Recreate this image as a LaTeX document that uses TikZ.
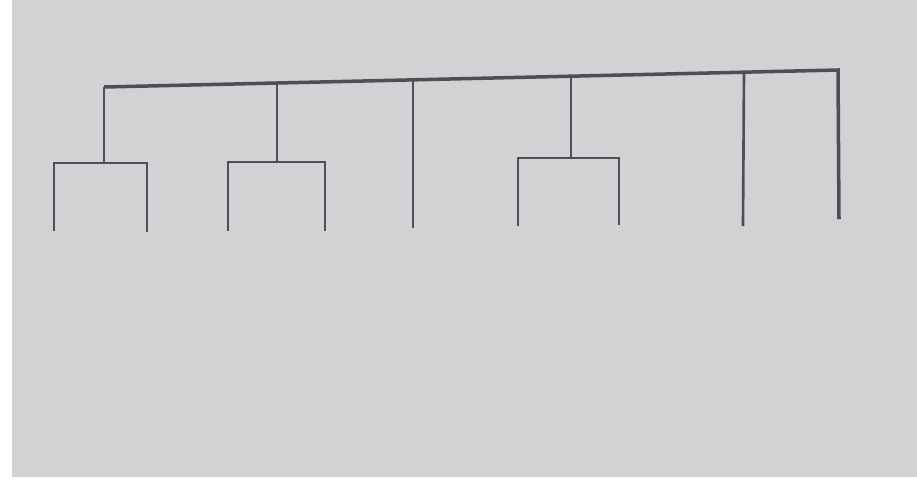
\documentclass[tikz,border=0pt]{standalone}
\usepackage{xcolor}
\definecolor{boardgray}{RGB}{211,209,211}
\definecolor{inkgray}{RGB}{78,78,84}
\usepackage{tikz}
\usetikzlibrary{calc}
\tikzset{
  branch/.style={draw=inkgray,line width=1.5pt,line cap=butt,line join=miter},
  trunk/.style ={draw=inkgray,line width=2pt,line join=miter},
}

\begin{document}
\begin{tikzpicture}[x=0.02cm,y=-0.02cm]
  \useasboundingbox (0,0) rectangle (917,485);
  \fill[white] (0,0) rectangle (917,485);
  \fill[boardgray] (12,0) rectangle (917,477);
  % joints on the top bar
  \coordinate (r1) at (104,87);
  \coordinate (r2) at (277,83);
  \coordinate (r3) at (413,80);
  \coordinate (r4) at (571,76);
  \coordinate (r5) at (744,72);
  \coordinate (r6) at (838,70);
  % pair bars
  \coordinate (c1) at (104,163); \coordinate (a1) at (54,163);  \coordinate (b1) at (147,163);
  \coordinate (c2) at (277,162); \coordinate (a2) at (228,162); \coordinate (b2) at (325,162);
  \coordinate (c4) at (571,158); \coordinate (a4) at (518,158); \coordinate (b4) at (619,158);
  % leaves
  \coordinate (la1) at (54,231);  \coordinate (lb1) at (147,232);
  \coordinate (la2) at (228,231); \coordinate (lb2) at (325,231);
  \coordinate (l3)  at (413,228);
  \coordinate (la4) at (518,226); \coordinate (lb4) at (619,225);
  \coordinate (l5)  at (743,226);
  \coordinate (l6)  at (839,219);
  \draw[trunk] (r1) -- (r6) -- (l6);
  \foreach \x/\y in {r1/c1,r2/c2,r3/l3,r4/c4,r5/l5}{\draw[branch] (\x) -- (\y);}
  \foreach \i in {1,2,4}{\draw[branch] (la\i) -- (a\i) -- (b\i) -- (lb\i);}
\end{tikzpicture}
\end{document}
